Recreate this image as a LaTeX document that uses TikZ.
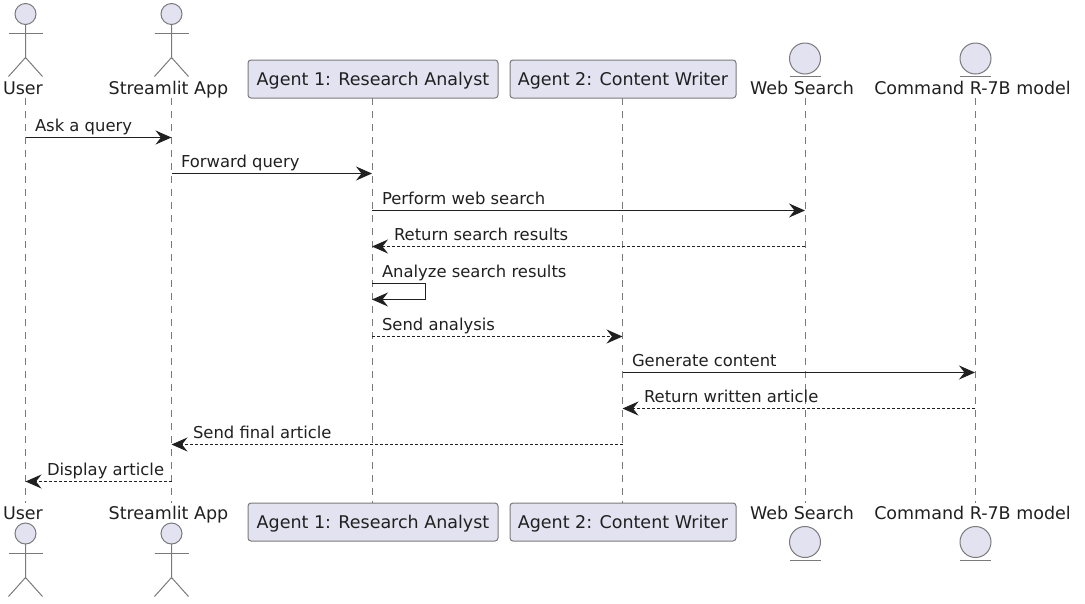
\documentclass[tikz,border=0pt]{standalone}
\usepackage{fontspec}
\setmainfont{DejaVu Sans}
\usetikzlibrary{arrows.meta}
\definecolor{partfill}{HTML}{E2E2F0}
\definecolor{partline}{HTML}{7A7A7A}
\definecolor{msgline}{HTML}{202020}
\definecolor{lifeline}{HTML}{7A7A7A}
\tikzset{
  every node/.style={font=\fontsize{17.5}{20}\selectfont, text=msgline, inner sep=0pt, outer sep=0pt},
  partbox/.style={draw=partline, fill=partfill, rounded corners=3pt, line width=1pt, minimum height=38, anchor=center, text height=15, text depth=2},
  figline/.style={draw=partline, line width=1pt},
  figfill/.style={draw=partline, fill=partfill, line width=1pt},
  life/.style={draw=lifeline, line width=1pt, dash pattern=on 7pt off 6pt},
  tip/.style={-{Stealth[length=16pt,width=14pt,inset=5.5pt]}},
  msg/.style={tip, draw=msgline, line width=1.15pt},
  reply/.style={tip, draw=msgline, line width=1.15pt, dash pattern=on 2.8pt off 2.2pt},
  msglabel/.style={anchor=base west, font=\fontsize{16.4}{19}\selectfont},
  partlabel/.style={anchor=base},
}
\begin{document}
\begin{tikzpicture}[x=1pt,y=-1pt]
\useasboundingbox (0,0) rectangle (1085,603);
% lifelines
\coordinate (uT) at (25.5,98); \coordinate (uB) at (25.5,503);
\coordinate (sT) at (171.5,98); \coordinate (sB) at (171.5,503);
\coordinate (aT) at (372,98); \coordinate (aB) at (372,503);
\coordinate (cT) at (622.5,98); \coordinate (cB) at (622.5,503);
\coordinate (wT) at (805,98); \coordinate (wB) at (805,503);
\coordinate (mT) at (975,98); \coordinate (mB) at (975,503);
\draw[life] (uT) -- (uB);
\draw[life] (sT) -- (sB);
\draw[life] (aT) -- (aB);
\draw[life] (cT) -- (cB);
\draw[life] (wT) -- (wB);
\draw[life] (mT) -- (mB);
% boxes
\node[partbox, minimum width=250] (a1top) at (373,79) {Agent 1: Research Analyst};
\node[partbox, minimum width=226] (a2top) at (623,79) {Agent 2: Content Writer};
\node[partbox, minimum width=250] (a1bot) at (373,522) {Agent 1: Research Analyst};
\node[partbox, minimum width=226] (a2bot) at (623,522) {Agent 2: Content Writer};
% labels
\node[partlabel] (ulT) at (23,94) {User};
\node[partlabel] (slT) at (168.5,94) {Streamlit App};
\node[partlabel] (wlT) at (802,94) {Web Search};
\node[partlabel] (mlT) at (972.5,94) {Command R-7B model};
\node[partlabel] (ulB) at (23,519) {User};
\node[partlabel] (slB) at (168.5,519) {Streamlit App};
\node[partlabel] (wlB) at (802,519) {Web Search};
\node[partlabel] (mlB) at (972.5,519) {Command R-7B model};
% actors
\foreach \x in {25.5,171.5}{
  \draw[figfill] (\x,14) circle (10.5);
  \draw[figline] (\x-17,33.5) -- (\x+17,33.5);
  \draw[figline] (\x,24.5) -- (\x,57.5) (\x-17,76.5) -- (\x,57.5) -- (\x+17,76.5);
  \draw[figfill] (\x,533.5) circle (10.5);
  \draw[figline] (\x-17,553.5) -- (\x+17,553.5);
  \draw[figline] (\x,544) -- (\x,577.5) (\x-17,596.5) -- (\x,577.5) -- (\x+17,596.5);
}
% entities
\foreach \x in {805,975.5}{
  \draw[figfill] (\x,58.5) circle (15.5);
  \draw[figline] (\x-15.5,76) -- (\x+15.5,76);
  \draw[figfill] (\x,542) circle (15.5);
  \draw[figline] (\x-15.5,560) -- (\x+15.5,560);
}
% message end points
\coordinate (m1a) at (25.5,137.5); \coordinate (m1b) at (171.5,137.5);
\coordinate (m2a) at (171.5,173.5); \coordinate (m2b) at (372,173.5);
\coordinate (m3a) at (372,210.5); \coordinate (m3b) at (805,210.5);
\coordinate (m4a) at (805,246.5); \coordinate (m4b) at (372,246.5);
\coordinate (m5a) at (372,283.5); \coordinate (m5c) at (425.5,283.5); \coordinate (m5d) at (425.5,299.5); \coordinate (m5b) at (372,299.5);
\coordinate (m6a) at (372,336.5); \coordinate (m6b) at (622.5,336.5);
\coordinate (m7a) at (622.5,372.5); \coordinate (m7b) at (975,372.5);
\coordinate (m8a) at (975,408.5); \coordinate (m8b) at (622.5,408.5);
\coordinate (m9a) at (622.5,444.5); \coordinate (m9b) at (171.5,444.5);
\coordinate (m10a) at (171.5,481.5); \coordinate (m10b) at (25.5,481.5);
\draw[msg] (m1a) -- (m1b);
\draw[msg] (m2a) -- (m2b);
\draw[msg] (m3a) -- (m3b);
\draw[reply] (m4a) -- (m4b);
\draw[msg] (m5a) -- (m5c) -- (m5d) -- (m5b);
\draw[reply] (m6a) -- (m6b);
\draw[msg] (m7a) -- (m7b);
\draw[reply] (m8a) -- (m8b);
\draw[reply] (m9a) -- (m9b);
\draw[reply] (m10a) -- (m10b);
\node[msglabel] (t1) at (35,131) {Ask a query};
\node[msglabel] (t2) at (181,167) {Forward query};
\node[msglabel] (t3) at (382,204) {Perform web search};
\node[msglabel] (t4) at (394,240) {Return search results};
\node[msglabel] (t5) at (382,277) {Analyze search results};
\node[msglabel] (t6) at (382,330) {Send analysis};
\node[msglabel] (t7) at (632,366) {Generate content};
\node[msglabel] (t8) at (644,402) {Return written article};
\node[msglabel] (t9) at (193,438) {Send final article};
\node[msglabel] (t10) at (47,475) {Display article};
\end{tikzpicture}
\end{document}
